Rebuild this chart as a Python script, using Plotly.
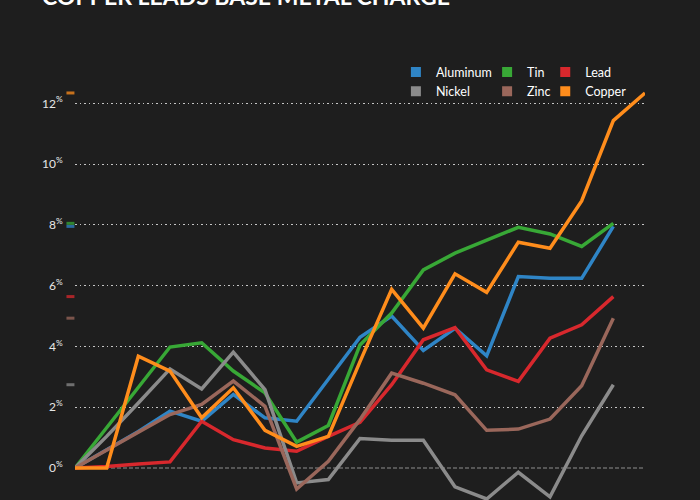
import plotly.graph_objects as go

# ---- data (percent change) ----
periods = list(range(19))
series_names = ["Aluminum", "Tin", "Lead", "Nickel", "Zinc", "Copper"]
aluminum = [0, 0.6, 1.2, 1.87, 1.54, 2.42, 1.65, 1.54, 2.9, 4.3, 5.0, 3.87, 4.6, 3.69, 6.3, 6.24, 6.24, 7.95]
tin = [0, 1.32, 2.64, 3.98, 4.12, 3.19, 2.47, 0.85, 1.4, 4.05, 5.1, 6.52, 7.07, 7.5, 7.92, 7.7, 7.29, 8.05]
lead = [0, 0.05, 0.13, 0.2, 1.54, 0.93, 0.66, 0.55, 1.04, 1.5, 2.74, 4.22, 4.62, 3.23, 2.85, 4.27, 4.71, 5.64]
nickel = [0, 1.04, 2.14, 3.26, 2.6, 3.81, 2.58, -0.49, -0.38, 0.97, 0.91, 0.91, -0.62, -1.02, -0.14, -0.95, 1.06, 2.74]
zinc = [0, 0.6, 1.18, 1.76, 2.09, 2.86, 2.03, -0.69, 0.22, 1.6, 3.12, 2.79, 2.41, 1.24, 1.28, 1.61, 2.71, 4.93]
copper = [0, 0, 3.68, 3.19, 1.65, 2.64, 1.24, 0.71, 1.04, 3.5, 5.88, 4.6, 6.39, 5.78, 7.43, 7.23, 8.79, 11.43, 12.34]
tick_values = [0, 2, 4, 6, 8, 10, 12]
tick_labels = [f"{v}<sup>%</sup>" for v in tick_values]
title_text = "COPPER LEADS BASE METAL CHARGE"

values = [aluminum, tin, lead, nickel, zinc, copper]
colors = ["#2f85c6", "#38a836", "#d8282d", "#8b8b8b", "#9a675b", "#ff8d1c"]
legend_ids = ["legend", "legend2", "legend3", "legend", "legend2", "legend3"]

BG = "#1e1e1e"
FONT = "Lato"

fig = go.Figure()

# lines
for name, vals, col in zip(series_names, values, colors):
    fig.add_trace(go.Scatter(
        x=periods[:len(vals)], y=vals, mode="lines", name=name,
        line=dict(color=col, width=3.5), showlegend=False, hoverinfo="skip"))

# end-value ticks just left of the axis (y taken from each series' last value)
for vals, col in zip(values, colors):
    fig.add_shape(type="line", xref="paper", x0=-0.015, x1=-0.001,
                  yref="y", y0=vals[-1], y1=vals[-1], opacity=0.75,
                  line=dict(color=col, width=3))

# legend entries (square swatches)
for name, col, lg in zip(series_names, colors, legend_ids):
    fig.add_trace(go.Scatter(
        x=[None], y=[None], mode="markers", name=name, legend=lg,
        marker=dict(symbol="square", size=10, color=col)))

# dashed zero reference line
fig.add_shape(type="line", xref="paper", x0=0, x1=1, yref="y", y0=0, y1=0,
              line=dict(color="rgba(190,190,190,0.7)", width=1.2, dash="4px,2px"),
              layer="below")

# title (cut off by the top edge, as in the reference)
fig.add_annotation(text=f"<b>{title_text}</b>", xref="paper", yref="paper",
                   x=-0.0614, y=1, xanchor="left", yanchor="middle", yshift=64,
                   showarrow=False, font=dict(family=FONT, size=23, color="#ffffff"))

legend_common = dict(orientation="v", yanchor="top", y=1.006, xanchor="left",
                     bgcolor="rgba(0,0,0,0)", font=dict(family=FONT, size=12.5, color="#ffffff"),
                     tracegroupgap=0, itemclick=False, itemdoubleclick=False)

fig.update_layout(
    width=700, height=500,
    paper_bgcolor=BG, plot_bgcolor=BG,
    margin=dict(l=75, r=55, t=60, b=0),
    font=dict(family=FONT, color="#e6e6e6"),
    legend=dict(x=0.563, **legend_common),
    legend2=dict(x=0.723, **legend_common),
    legend3=dict(x=0.825, **legend_common),
    xaxis=dict(range=[0, 18], showgrid=False, zeroline=False, showline=False,
               showticklabels=False, ticks=""),
    yaxis=dict(range=[-1.053, 13.425], tickmode="array", tickvals=tick_values,
               ticktext=tick_labels, showgrid=False, zeroline=False, showline=False,
               ticks="outside", ticklen=9, tickcolor="rgba(0,0,0,0)",
               tickfont=dict(family=FONT, size=12, color="#e6e6e6"),
               minor=dict(tickmode="array", tickvals=tick_values[1:], showgrid=True,
                          gridcolor="rgba(255,255,255,0.75)", gridwidth=1,
                          griddash="1.5px,3px", ticks="")),
    showlegend=True,
    hovermode=False,
)

fig.write_html(
    "out.html",
    config={"displayModeBar": False},
    post_script="document.body.style.margin='0';document.body.style.overflow='hidden';",
)
